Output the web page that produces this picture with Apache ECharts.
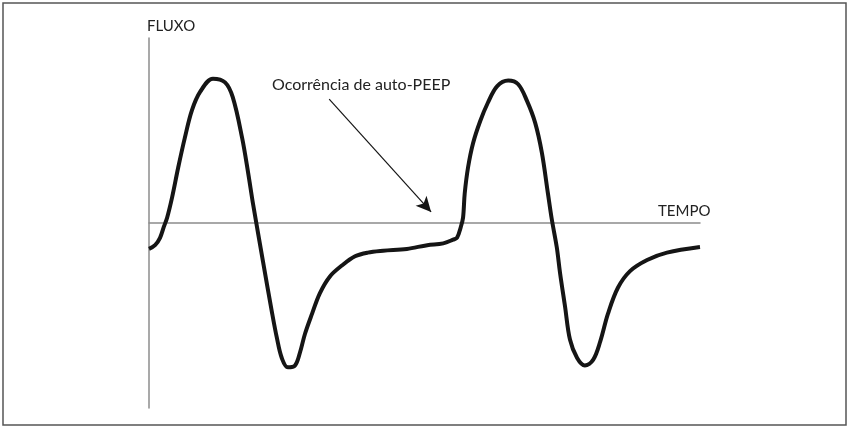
<!DOCTYPE html>
<html>
<head>
<meta charset="utf-8">
<title>Fluxo x Tempo - auto-PEEP</title>
<script src="https://cdn.jsdelivr.net/npm/echarts@6/dist/echarts.min.js"></script>
<style>
html, body { margin: 0; padding: 0; background: #fff; }
#container { width: 854px; height: 430px; }
</style>
</head>
<body>
<div id="container"></div>
<script>
// tempo (unidades arbitrárias, 0..10) e fluxo (-1..1)
var tempo = [0.00, 0.11, 0.20, 0.27, 0.33, 0.42, 0.53, 0.65, 0.78, 0.93, 1.16, 1.38, 1.52, 1.69, 1.80, 1.89, 2.07, 2.23, 2.32, 2.41, 2.52, 2.65, 2.74, 2.83, 2.96, 3.10, 3.28, 3.50, 3.74, 3.97, 4.25, 4.68, 5.05, 5.34, 5.52, 5.59, 5.66, 5.70, 5.73, 5.79, 5.88, 6.01, 6.15, 6.32, 6.52, 6.70, 6.86, 7.01, 7.13, 7.24, 7.31, 7.40, 7.46, 7.55, 7.64, 7.77, 7.91, 8.06, 8.19, 8.33, 8.51, 8.73, 9.04, 9.40, 10.00];
var fluxo = [-0.14, -0.12, -0.08, -0.02, 0.03, 0.14, 0.30, 0.46, 0.61, 0.71, 0.78, 0.76, 0.68, 0.46, 0.27, 0.10, -0.21, -0.48, -0.62, -0.73, -0.78, -0.77, -0.70, -0.60, -0.49, -0.38, -0.29, -0.23, -0.18, -0.16, -0.15, -0.14, -0.12, -0.11, -0.09, -0.08, -0.02, 0.03, 0.16, 0.30, 0.43, 0.55, 0.65, 0.74, 0.77, 0.75, 0.66, 0.54, 0.38, 0.16, 0.02, -0.13, -0.27, -0.45, -0.63, -0.73, -0.77, -0.74, -0.64, -0.49, -0.35, -0.26, -0.20, -0.16, -0.13];

// seta da anotação (início e ponta, em coordenadas do gráfico)
var setaInicio = [3.27, 0.67];
var setaFim = [5.12, 0.06];

var axisColor = '#8c8c8c';
var fonte = 'Lato, "Open Sans", sans-serif';

function montaSerie(){
	var pts = [];
	for(var i = 0; i < tempo.length; i++){
		pts.push([tempo[i], fluxo[i]]);
	}
	return pts;
}

var dom = document.getElementById("container");
var myChart = echarts.init(dom, null, {renderer: 'canvas'});
var option = {
	animation: false,
	backgroundColor: '#fff',
	grid: {
		left: 149,
		top: 38,
		width: 551,
		height: 370
	},
	xAxis: {
		type: 'value',
		min: 0,
		max: 10,
		axisLine: { show: true, onZero: true, lineStyle: { color: axisColor, width: 1.5 } },
		axisTick: { show: false },
		axisLabel: { show: false },
		splitLine: { show: false }
	},
	yAxis: {
		type: 'value',
		min: -1,
		max: 1,
		axisLine: { show: true, onZero: false, lineStyle: { color: axisColor, width: 1.5 } },
		axisTick: { show: false },
		axisLabel: { show: false },
		splitLine: { show: false }
	},
	graphic: [
		{
			type: 'rect',
			shape: { x: 3, y: 3, width: 843, height: 422 },
			style: { fill: 'none', stroke: '#555', lineWidth: 1.5 },
			silent: true
		},
		{
			type: 'text',
			left: 147,
			top: 19,
			style: { text: 'FLUXO', fill: '#222', font: '15px ' + fonte }
		},
		{
			type: 'text',
			left: 658,
			top: 204,
			style: { text: 'TEMPO', fill: '#222', font: '15px ' + fonte }
		},
		{
			type: 'text',
			left: 272,
			top: 77,
			style: { text: 'Ocorrência de auto-PEEP', fill: '#222', font: '16px ' + fonte }
		}
	],
	series: [
		{
			type: 'line',
			data: montaSerie(),
			smooth: 0.35,
			showSymbol: false,
			lineStyle: { color: '#151515', width: 4 },
			markLine: {
				silent: true,
				symbol: ['none', 'arrow'],
				symbolSize: [11, 15],
				label: { show: false },
				lineStyle: { color: '#151515', width: 1.2, type: 'solid' },
				data: [[
					{ coord: setaInicio },
					{ coord: setaFim }
				]]
			}
		}
	]
};
myChart.setOption(option, true);
</script>
</body>
</html>
